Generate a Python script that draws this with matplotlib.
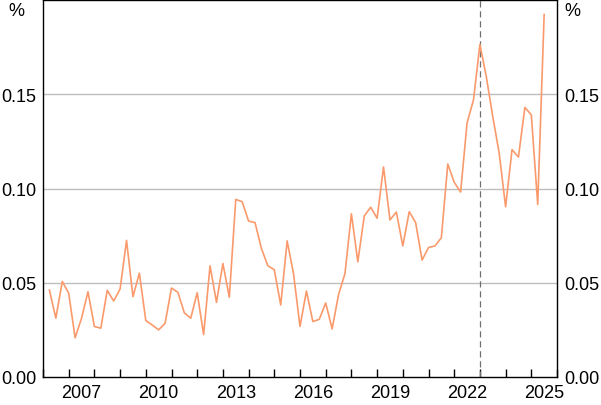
import matplotlib
matplotlib.use("Agg")
import matplotlib.pyplot as plt
from matplotlib.ticker import FixedLocator, NullFormatter, FixedFormatter
import numpy as np

plt.rcParams['font.family'] = ['Liberation Sans', 'DejaVu Sans']

start_year = 2006.25  # first quarter (end of Q1 2006)
values = [
    0.0461, 0.0312, 0.0507, 0.0444, 0.0208, 0.0312, 0.0452, 0.0268, 0.0259, 0.0460,
    0.0403, 0.0467, 0.0725, 0.0426, 0.0551, 0.0299, 0.0276, 0.0250, 0.0285, 0.0472,
    0.0449, 0.0340, 0.0312, 0.0447, 0.0225, 0.0590, 0.0396, 0.0602, 0.0423, 0.0942,
    0.0930, 0.0827, 0.0819, 0.0681, 0.0590, 0.0569, 0.0382, 0.0722, 0.0546, 0.0268,
    0.0456, 0.0294, 0.0306, 0.0393, 0.0255, 0.0437, 0.0549, 0.0866, 0.0611, 0.0854,
    0.0901, 0.0842, 0.1114, 0.0833, 0.0875, 0.0695, 0.0877, 0.0819, 0.0620, 0.0687,
    0.0695, 0.0739, 0.1130, 0.1033, 0.0981, 0.1347, 0.1470, 0.1764, 0.1593, 0.1382,
    0.1188, 0.0903, 0.1206, 0.1167, 0.1430, 0.1391, 0.0915, 0.1923,
]
x = start_year + 0.25 * np.arange(len(values))

year_labels = [2007, 2010, 2013, 2016, 2019, 2022, 2025]
y_ticks = [0.00, 0.05, 0.10, 0.15]
y_ticklabels = ["0.00", "0.05", "0.10", "0.15"]
marker_date = 2023.0

fig = plt.figure(figsize=(6.01, 4.06), dpi=100)
ax = fig.add_axes([43/601, 1 - 378/406, (557-43)/601, (378-1)/406])

ax.plot(x, values, color='#FA9A6C', lw=1.2, zorder=3)
ax.axvline(marker_date, color='#707070', lw=0.9, ls=(0, (5, 3)), zorder=2)

ax.set_xlim(2006.0, 2026.0)
ax.set_ylim(0, 0.2)

# year boundary ticks (major), labels at mid-year (minor)
ax.xaxis.set_major_locator(FixedLocator(np.arange(2006, 2027)))
ax.xaxis.set_major_formatter(NullFormatter())
ax.xaxis.set_minor_locator(FixedLocator([y + 0.5 for y in year_labels]))
ax.xaxis.set_minor_formatter(FixedFormatter([str(y) for y in year_labels]))
ax.tick_params(axis='x', which='major', direction='in', length=6, width=1, color='black')
ax.tick_params(axis='x', which='minor', length=0, pad=5, labelsize=13)

ax.set_yticks(y_ticks)
ax.set_yticklabels(y_ticklabels)
ax.tick_params(axis='y', which='both', length=0, pad=5, labelsize=13,
               left=True, right=True, labelleft=True, labelright=True)

for yv in y_ticks[1:]:
    ax.axhline(yv, color='#BDBDBD', lw=1.0, zorder=1)

for s in ax.spines.values():
    s.set_color('black')
    s.set_linewidth(1.0)

fig.text(8/601, 1 - 12/406, '%', fontsize=13, ha='left', va='center')
fig.text(564/601, 1 - 12/406, '%', fontsize=13, ha='left', va='center')

fig.savefig('out.png', dpi=100)
